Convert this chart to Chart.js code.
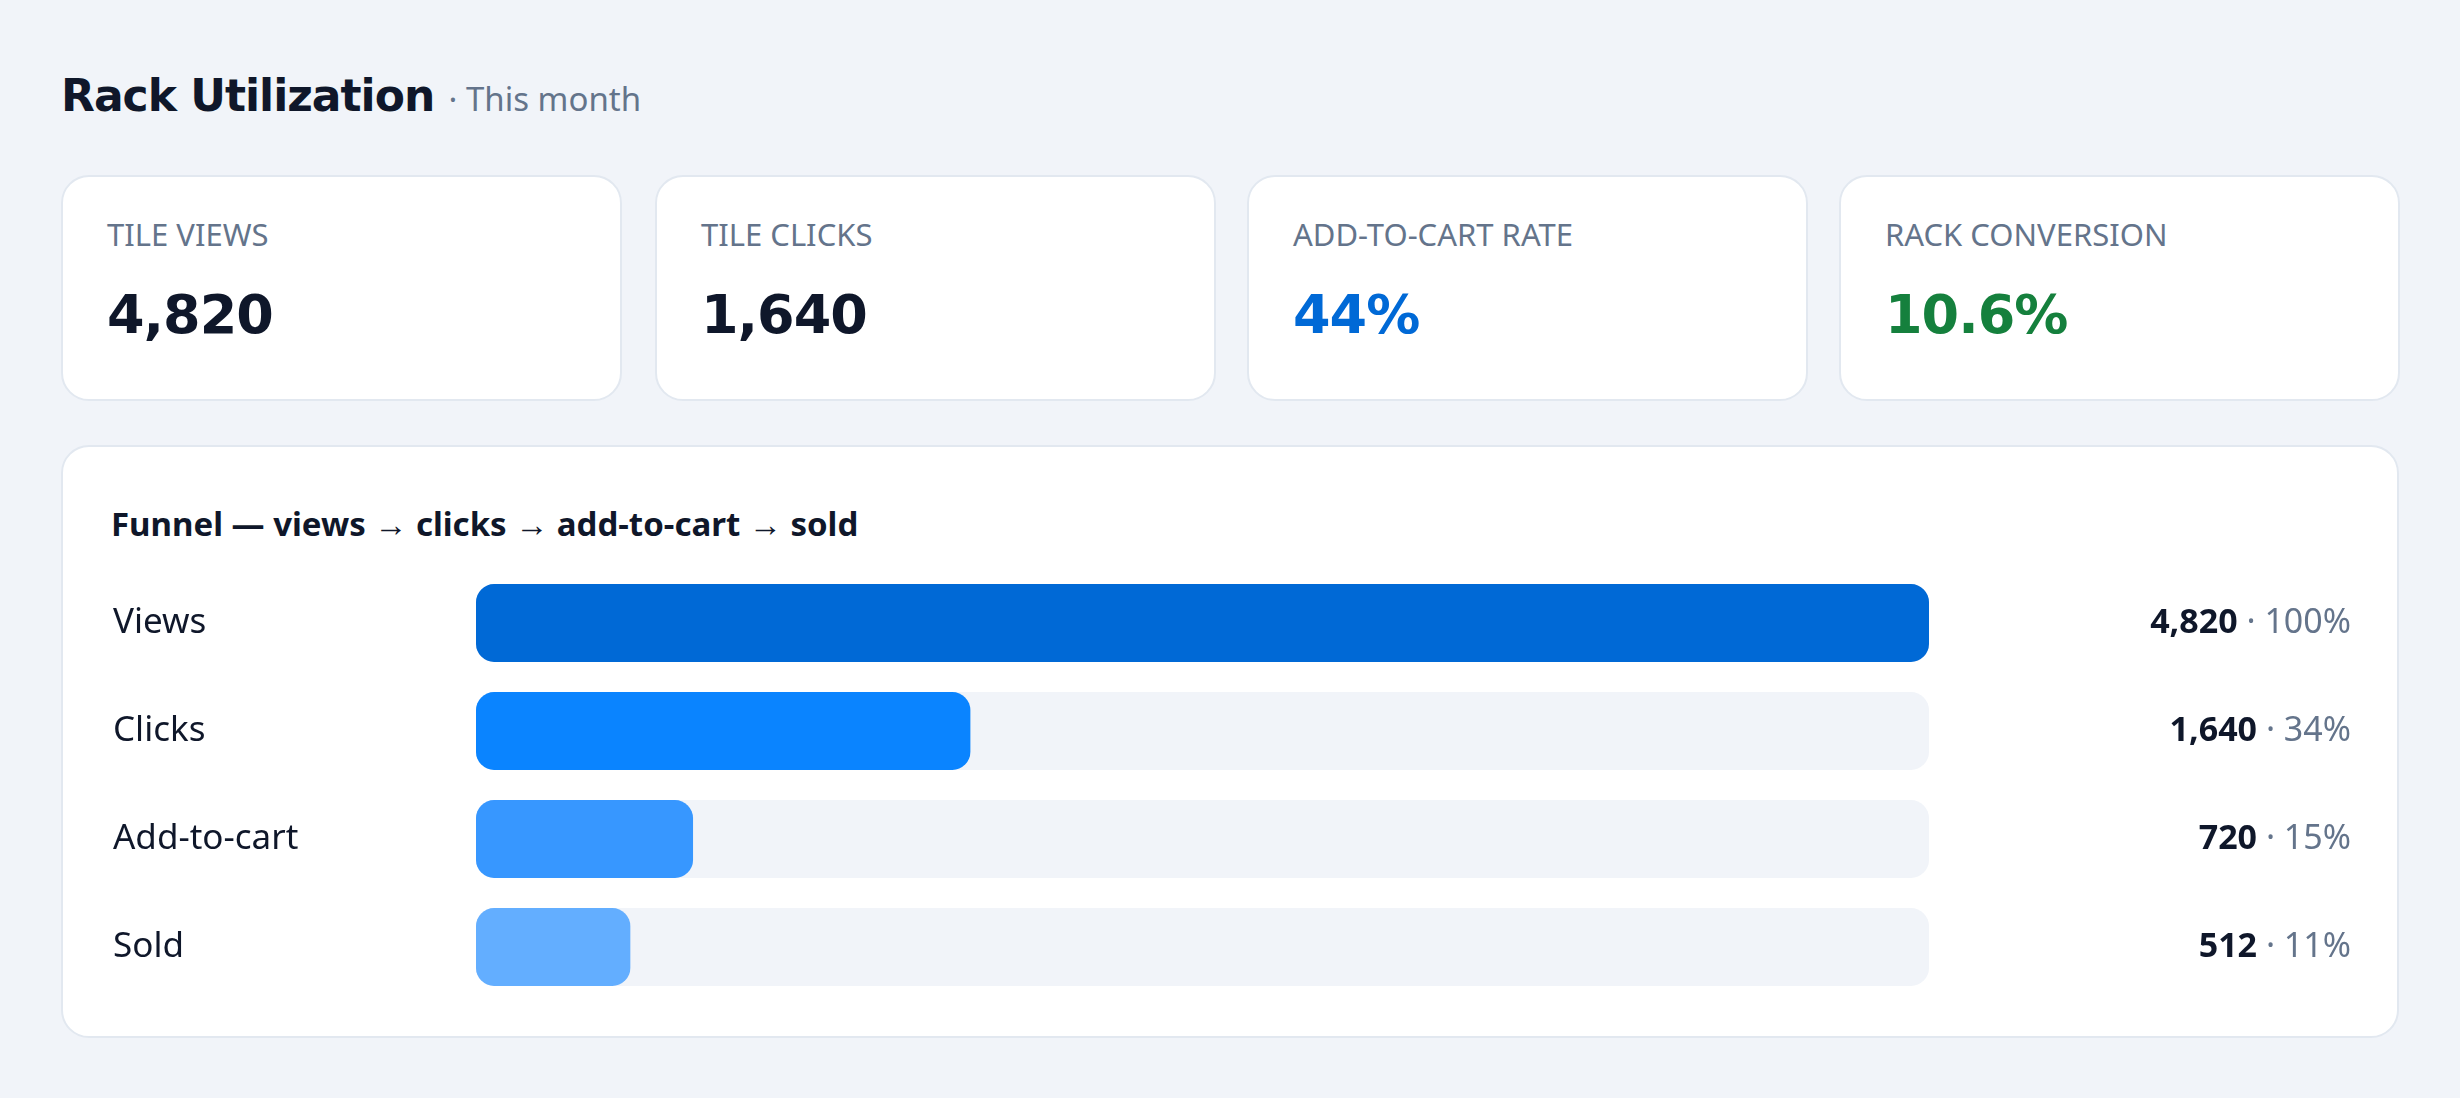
<!DOCTYPE html>
<html lang="en">
<head>
  <meta charset="UTF-8">
  <title>Rack Utilization</title>
  <script src="https://cdn.jsdelivr.net/npm/chart.js"></script>
  <style>
    body {
      margin: 0;
      width: 2460px;
      height: 1098px;
      background: #f1f4f9;
      font-family: "Noto Sans", "Open Sans", sans-serif;
      position: relative;
      overflow: hidden;
    }
    h1 {
      position: absolute;
      left: 61px;
      top: 70px;
      margin: 0;
      font-family: "DejaVu Sans", sans-serif;
      font-size: 44px;
      font-weight: bold;
      color: #0f172a;
      letter-spacing: -1px;
    }
    h1 span {
      font-family: "Noto Sans", sans-serif;
      font-weight: normal;
      font-size: 33px;
      color: #64748b;
      letter-spacing: 0;
    }
    .card {
      position: absolute;
      background: #fff;
      border: 2px solid #e2e8f0;
      border-radius: 28px;
      box-sizing: border-box;
    }
    .kpi { top: 175px; height: 226px; width: 561px; }
    .kpi .label {
      position: absolute; left: 44px; top: 36px;
      font-size: 31px; color: #64748b;
    }
    .kpi .value {
      position: absolute; left: 44px; top: 106px;
      font-family: "DejaVu Sans", sans-serif;
      font-size: 54px; font-weight: bold; color: #0f172a;
      letter-spacing: -1px;
    }
    .funnel { left: 61px; top: 445px; width: 2338px; height: 593px; }
    .funnel .title {
      position: absolute; left: 48px; top: 54px;
      font-size: 33px; font-weight: bold; color: #0f172a;
    }
    #wrap { position: absolute; left: 50px; top: 98px; width: 2238px; height: 480px; }
  </style>
</head>
<body>
  <h1>Rack Utilization <span>· This month</span></h1>

  <div class="card kpi" style="left:61px"><div class="label">TILE VIEWS</div><div class="value">4,820</div></div>
  <div class="card kpi" style="left:655px"><div class="label">TILE CLICKS</div><div class="value">1,640</div></div>
  <div class="card kpi" style="left:1247px"><div class="label">ADD-TO-CART RATE</div><div class="value" style="color:#0069d6">44%</div></div>
  <div class="card kpi" style="left:1839px"><div class="label">RACK CONVERSION</div><div class="value" style="color:#15803d">10.6%</div></div>

  <div class="card funnel">
    <div class="title">Funnel — views → clicks → add-to-cart → sold</div>
    <div id="wrap"><canvas id="funnelChart"></canvas></div>
  </div>

  <script>
    const stages = ['Views', 'Clicks', 'Add-to-cart', 'Sold'];
    const counts = [4820, 1640, 720, 512];
    const shares = ['100%', '34%', '15%', '11%'];
    const barColors = ['#0069d6', '#0a84ff', '#3797ff', '#63aeff'];
    const maxCount = 4820;

    // value + share text on the right side of each row
    const valueLabels = {
      id: 'valueLabels',
      afterDatasetsDraw(chart) {
        const ctx = chart.ctx;
        const meta = chart.getDatasetMeta(0);
        const right = chart.width;
        ctx.save();
        ctx.textBaseline = 'middle';
        ctx.textAlign = 'right';
        meta.data.forEach((bar, i) => {
          const tail = ' · ' + shares[i];
          ctx.font = '34px "Noto Sans"';
          ctx.fillStyle = '#64748b';
          ctx.fillText(tail, right, bar.y);
          const w = ctx.measureText(tail).width;
          ctx.font = 'bold 34px "Noto Sans"';
          ctx.fillStyle = '#0f172a';
          ctx.fillText(counts[i].toLocaleString('en-US'), right - w, bar.y);
        });
        ctx.restore();
      }
    };

    new Chart(document.getElementById('funnelChart'), {
      type: 'bar',
      data: {
        labels: stages,
        datasets: [{
          data: counts,
          backgroundColor: barColors,
          borderRadius: 18,
          borderSkipped: false,
          grouped: false,
          order: 1,
          categoryPercentage: 0.72,
          barPercentage: 1
        }, {
          data: stages.map(() => maxCount),
          backgroundColor: '#f1f4f9',
          borderRadius: 18,
          borderSkipped: false,
          grouped: false,
          order: 2,
          categoryPercentage: 0.72,
          barPercentage: 1
        }]
      },
      options: {
        indexAxis: 'y',
        responsive: true,
        maintainAspectRatio: false,
        animation: false,
        layout: { padding: { right: 422 } },
        plugins: { legend: { display: false }, tooltip: { enabled: false } },
        scales: {
          x: { display: false, min: 0, max: maxCount },
          y: {
            grid: { display: false },
            border: { display: false },
            afterFit(scale) { scale.width = 363; },
            ticks: {
              crossAlign: 'far',
              color: '#0f172a',
              font: { family: 'Noto Sans', size: 35 }
            }
          }
        }
      },
      plugins: [valueLabels]
    });
  </script>
</body>
</html>
